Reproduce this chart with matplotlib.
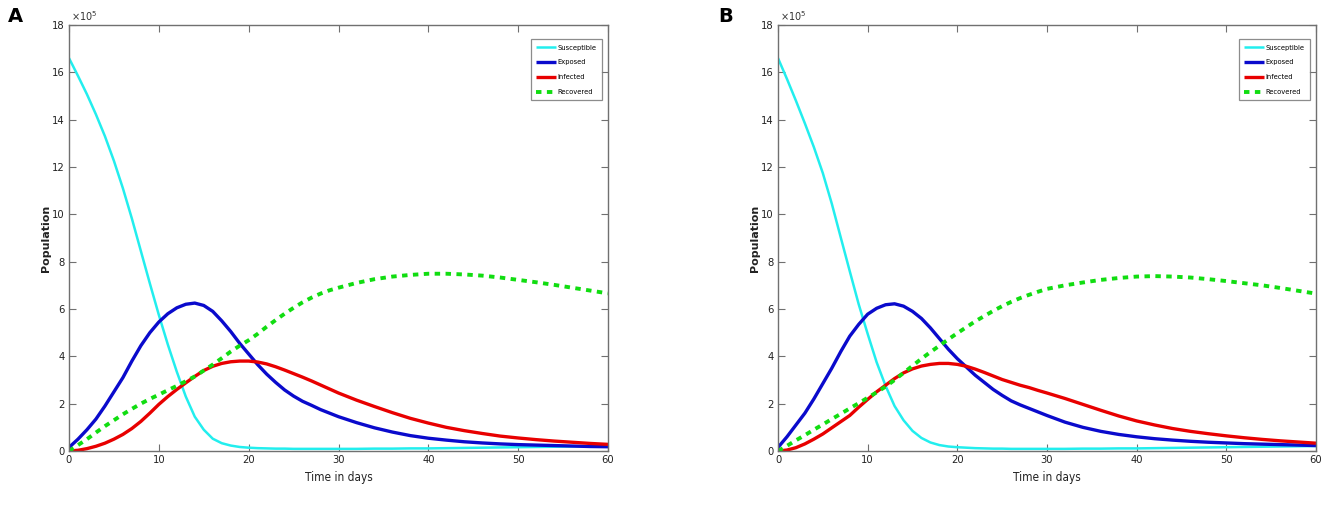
import matplotlib
matplotlib.use("Agg")
import matplotlib.pyplot as plt
from matplotlib import font_manager

# ---------------- data (values in units of 10^5) ----------------
days = [0, 1, 2, 3, 4, 5, 6, 7, 8, 9, 10, 11, 12, 13, 14, 15, 16, 17, 18, 19, 20,
        21, 22, 23, 24, 25, 26, 27, 28, 29, 30,
        32, 34, 36, 38, 40, 42, 44, 46, 48, 50, 52, 54, 56, 58, 60]

series_names = ["Susceptible", "Exposed", "Infected", "Recovered"]

# Panel A
sus_A = [16.6, 15.85, 15.07, 14.22, 13.3, 12.26, 11.1, 9.82, 8.45, 7.08, 5.75, 4.5, 3.35, 2.3, 1.45,
         0.9, 0.52, 0.33, 0.23, 0.17, 0.14, 0.12, 0.11, 0.1, 0.1, 0.09, 0.09, 0.09, 0.09, 0.09, 0.09,
         0.09, 0.1, 0.1, 0.11, 0.11, 0.12, 0.13, 0.14, 0.15, 0.16, 0.17, 0.18, 0.19, 0.2, 0.21]
exp_A = [0.15, 0.5, 0.9, 1.35, 1.9, 2.5, 3.1, 3.8, 4.45, 5.0, 5.45, 5.8, 6.05, 6.2, 6.25,
         6.15, 5.9, 5.5, 5.05, 4.55, 4.1, 3.65, 3.25, 2.9, 2.58, 2.32, 2.1, 1.93, 1.75, 1.6, 1.45,
         1.2, 0.98, 0.8, 0.65, 0.54, 0.46, 0.39, 0.34, 0.3, 0.27, 0.25, 0.23, 0.21, 0.19, 0.18]
inf_A = [0.0, 0.03, 0.1, 0.2, 0.33, 0.5, 0.7, 0.95, 1.25, 1.6, 1.97, 2.3, 2.6, 2.88, 3.15,
         3.4, 3.58, 3.7, 3.77, 3.8, 3.8, 3.76, 3.68, 3.56, 3.42, 3.27, 3.12, 2.96, 2.79, 2.62, 2.45,
         2.15, 1.88, 1.62, 1.38, 1.18, 1.0, 0.86, 0.74, 0.63, 0.55, 0.48, 0.42, 0.37, 0.32, 0.28]
rec_A = [0.0, 0.25, 0.5, 0.78, 1.05, 1.3, 1.55, 1.78, 2.0, 2.2, 2.38, 2.57, 2.75, 2.95, 3.15,
         3.4, 3.65, 3.92, 4.2, 4.45, 4.68, 4.95, 5.25, 5.53, 5.8, 6.05, 6.28, 6.48, 6.65, 6.79, 6.9,
         7.1, 7.26, 7.37, 7.44, 7.49, 7.49, 7.46, 7.41, 7.33, 7.23, 7.13, 7.02, 6.9, 6.78, 6.66]

# Panel B
sus_B = [16.6, 15.72, 14.8, 13.84, 12.84, 11.74, 10.45, 9.02, 7.6, 6.2, 4.95, 3.75, 2.75, 1.9, 1.3,
         0.85, 0.55, 0.36, 0.25, 0.19, 0.16, 0.14, 0.12, 0.11, 0.1, 0.1, 0.09, 0.09, 0.09, 0.09, 0.09,
         0.09, 0.1, 0.1, 0.11, 0.11, 0.12, 0.13, 0.14, 0.15, 0.16, 0.17, 0.18, 0.19, 0.2, 0.21]
exp_B = [0.15, 0.6, 1.1, 1.6, 2.2, 2.85, 3.5, 4.2, 4.85, 5.35, 5.78, 6.03, 6.18, 6.22, 6.12,
         5.9, 5.6, 5.2, 4.75, 4.3, 3.9, 3.55, 3.2, 2.9, 2.6, 2.35, 2.12, 1.95, 1.8, 1.65, 1.5,
         1.22, 1.0, 0.83, 0.7, 0.6, 0.52, 0.46, 0.41, 0.37, 0.34, 0.31, 0.29, 0.27, 0.25, 0.23]
inf_B = [0.0, 0.04, 0.14, 0.3, 0.5, 0.72, 0.98, 1.24, 1.5, 1.85, 2.18, 2.5, 2.78, 3.06, 3.3,
         3.47, 3.59, 3.66, 3.7, 3.7, 3.66, 3.58, 3.46, 3.32, 3.17, 3.02, 2.9, 2.78, 2.68, 2.56, 2.45,
         2.22, 1.97, 1.72, 1.48, 1.27, 1.1, 0.95, 0.83, 0.73, 0.64, 0.56, 0.49, 0.43, 0.38, 0.33]
rec_B = [0.0, 0.22, 0.45, 0.67, 0.9, 1.12, 1.35, 1.57, 1.8, 2.02, 2.25, 2.48, 2.72, 3.0, 3.3,
         3.6, 3.9, 4.18, 4.45, 4.72, 4.98, 5.23, 5.48, 5.7, 5.92, 6.12, 6.3, 6.46, 6.6, 6.73, 6.85,
         7.0, 7.12, 7.23, 7.31, 7.37, 7.39, 7.37, 7.33, 7.26, 7.18, 7.09, 7.0, 6.89, 6.77, 6.65]

x_ticks = [0, 10, 20, 30, 40, 50, 60]
y_ticks = [0, 2, 4, 6, 8, 10, 12, 14, 16, 18]
panel_labels = ["A", "B"]

# ---------------- styling ----------------
narrow_file = None
for f in font_manager.fontManager.ttflist:
    low = f.fname.lower()
    if ("narrow" in low or "condensed" in low) and "bold" not in low and "italic" not in low \
            and "oblique" not in low:
        narrow_file = f.fname
        break
plt.rcParams["font.family"] = ["DejaVu Sans"]


def fp(size, bold=False):
    if narrow_file is not None and not bold:
        return font_manager.FontProperties(fname=narrow_file, size=size)
    return font_manager.FontProperties(family="DejaVu Sans", size=size,
                                       weight="bold" if bold else "normal")


colors = ["#22EEEE", "#0A0ACC", "#E80000", "#11DD11"]
widths = [1.8, 2.4, 2.4, 2.8]
styles = ["-", "-", "-", (0, (1.4, 1.4))]
spine_col = "#707070"
txt_col = "#222222"

fig = plt.figure(figsize=(13.25, 5.05), dpi=100)
positions = [[69 / 1325, 1 - 451 / 505, 539 / 1325, 426 / 505],
             [778 / 1325, 1 - 451 / 505, 538 / 1325, 426 / 505]]
panels = [(sus_A, exp_A, inf_A, rec_A), (sus_B, exp_B, inf_B, rec_B)]
label_x = [8 / 1325, 718 / 1325]

for pos, data, lab, lx in zip(positions, panels, panel_labels, label_x):
    ax = fig.add_axes(pos)
    for vals, name, c, w, s in zip(data, series_names, colors, widths, styles):
        ax.plot(days, vals, color=c, lw=w, ls=s, label=name, solid_capstyle="butt",
                dash_capstyle="butt")
    ax.set_xlim(0, 60)
    ax.set_ylim(0, 18)
    ax.set_xticks(x_ticks)
    ax.set_yticks(y_ticks)
    ax.tick_params(direction="in", top=True, right=True, length=5, width=0.8,
                   color=spine_col, labelcolor=txt_col, pad=3)
    for t in ax.get_xticklabels() + ax.get_yticklabels():
        t.set_fontproperties(fp(8))
    for sp in ax.spines.values():
        sp.set_color(spine_col)
        sp.set_linewidth(1.0)
    ax.set_xlabel("Time in days", fontproperties=fp(8.5), color=txt_col, labelpad=4)
    ax.set_ylabel("Population", fontproperties=fp(8, bold=True), color=txt_col, labelpad=1)
    ax.text(0.004, 1.004, r"$\times10^{5}$", transform=ax.transAxes, fontsize=7,
            color="#333333", va="bottom", ha="left")
    leg = ax.legend(loc="upper right", bbox_to_anchor=(0.988, 0.966), prop=fp(5.4),
                    handlelength=2.7, handletextpad=0.25, labelspacing=1.15,
                    borderpad=0.65, frameon=True, fancybox=False, borderaxespad=0)
    leg.get_frame().set_edgecolor(spine_col)
    leg.get_frame().set_linewidth(0.9)
    fig.text(lx, 1 - 7 / 505, lab, fontsize=14, fontweight="bold", family="DejaVu Sans",
             va="top", ha="left")

fig.savefig("out.png", dpi=100)
